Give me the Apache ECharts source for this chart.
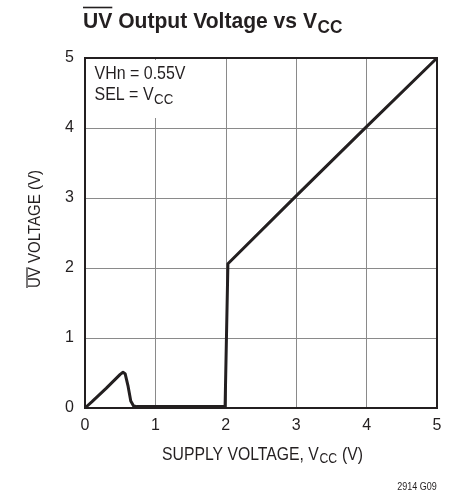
<!DOCTYPE html>
<html>
<head>
<meta charset="utf-8">
<script src="https://cdn.jsdelivr.net/npm/echarts@6/dist/echarts.min.js"></script>
<style>
html, body { margin: 0; padding: 0; background: #fff; }
#chart { width: 455px; height: 493px; }
</style>
</head>
<body>
<div id="chart"></div>
<script>
// supply voltage (V) and UV output voltage (V)
var vccValues = [0, 0.1, 0.3, 0.5, 0.54, 0.57, 0.61, 0.65, 0.69, 0.74, 1.0, 1.5, 1.99, 2.03, 3, 4, 5];
var uvValues = [0, 0.09, 0.28, 0.48, 0.51, 0.49, 0.32, 0.1, 0.03, 0.02, 0.02, 0.02, 0.02, 2.06, 3.03, 4.02, 5];
var xTicks = [0, 1, 2, 3, 4, 5];
var yTicks = [0, 1, 2, 3, 4, 5];

var font = "'Liberation Sans', Arial, sans-serif";
var ink = '#231f20';

var curve = [];
for (var i = 0; i < vccValues.length; i++) {
    curve.push([vccValues[i], uvValues[i]]);
}

// text width helper, used to squeeze text into the condensed look of the original
var ctx = document.createElement('canvas').getContext('2d');
function textWidth(str, size, weight) {
    ctx.font = (weight || 'normal') + ' ' + size + 'px ' + font;
    return ctx.measureText(str).width;
}

// a line of text plus optional subscript, laid out left to right, centred on cy
function textLine(x, cy, main, size, weight, sub, subSize, subDy, sx) {
    var w = textWidth(main, size, weight) * sx;
    var els = [{
        type: 'text', x: x, y: cy, scaleX: sx, z: 3,
        style: { text: main, font: weight + ' ' + size + 'px ' + font, fill: ink, align: 'left', verticalAlign: 'middle' }
    }];
    if (sub) {
        els.push({
            type: 'text', x: x + w + 0.5, y: cy + subDy, scaleX: sx, z: 3,
            style: { text: sub, font: weight + ' ' + subSize + 'px ' + font, fill: ink, align: 'left', verticalAlign: 'middle' }
        });
    }
    return els;
}

var titleScale = 234 / textWidth('UV Output Voltage vs V', 22, 'bold');
var noteScale = 91 / textWidth('VHn = 0.55V', 18, 'normal');
var xNameScale = 200 / (textWidth('SUPPLY VOLTAGE, V (V)', 18, 'normal') + textWidth('CC', 14, 'normal'));
var yNameScale = 118 / textWidth('UV VOLTAGE (V)', 17, 'normal');
var yNameLen = 118;
var uvLen = textWidth('UV', 17, 'normal') * yNameScale;

var graphics = [];
graphics = graphics.concat(textLine(83, 21.5, 'UV Output Voltage vs V', 22, 'bold', 'CC', 18, 6.5, titleScale));
graphics = graphics.concat(textLine(94.5, 74, 'VHn = 0.55V', 18, 'normal', null, 0, 0, noteScale));
graphics = graphics.concat(textLine(94.5, 95.5, 'SEL = V', 18, 'normal', 'CC', 15, 4.5, noteScale));

var xPre = 'SUPPLY VOLTAGE, V';
var xPreW = textWidth(xPre, 18, 'normal') * xNameScale;
var ccW = textWidth('CC', 14, 'normal') * xNameScale;
graphics = graphics.concat(textLine(162, 455.5, xPre, 18, 'normal', 'CC', 14, 4, xNameScale));
graphics.push({
    type: 'text', x: 162 + xPreW + ccW + 1, y: 455.5, scaleX: xNameScale, z: 3,
    style: { text: ' (V)', font: 'normal 18px ' + font, fill: ink, align: 'left', verticalAlign: 'middle' }
});

graphics.push(
    // top and right edges of the frame
    { type: 'rect', shape: { x: 85, y: 58, width: 352, height: 350 }, style: { fill: 'none', stroke: ink, lineWidth: 2 }, z: 1 },
    // white patch behind the annotation
    { type: 'rect', shape: { x: 87, y: 60, width: 101, height: 58 }, style: { fill: '#fff' }, z: 2 },
    {
        type: 'text', x: 35, y: 229, rotation: Math.PI / 2, scaleX: yNameScale, z: 3,
        style: { text: 'UV VOLTAGE (V)', font: 'normal 17px ' + font, fill: ink, align: 'center', verticalAlign: 'middle' }
    },
    // overline on the axis-title UV
    { type: 'line', shape: { x1: 27, y1: 229 + yNameLen / 2, x2: 27, y2: 229 + yNameLen / 2 - uvLen }, style: { stroke: ink, lineWidth: 1.2 } },
    // overline on the chart-title UV
    { type: 'line', shape: { x1: 83, y1: 7.5, x2: 83 + textWidth('UV', 22, 'bold') * titleScale, y2: 7.5 }, style: { stroke: ink, lineWidth: 1.6 } },
    {
        type: 'text', x: 417, y: 487.5, scaleX: 0.9, z: 3,
        style: { text: '2914 G09', font: 'normal 10px ' + font, fill: ink, align: 'center', verticalAlign: 'middle' }
    }
);

var myChart = echarts.init(document.getElementById('chart'));

var option = {
    backgroundColor: '#fff',
    animation: false,
    grid: {
        left: 85,
        right: 18,
        top: 58,
        bottom: 85
    },
    xAxis: {
        type: 'value',
        min: xTicks[0],
        max: xTicks[xTicks.length - 1],
        interval: 1,
        axisLine: { show: true, onZero: false, lineStyle: { color: ink, width: 2 } },
        axisTick: { show: false },
        axisLabel: { color: ink, fontFamily: font, fontSize: 16, margin: 10 },
        splitLine: { show: true, lineStyle: { color: '#8a8a8a', width: 1 } }
    },
    yAxis: {
        type: 'value',
        min: yTicks[0],
        max: yTicks[yTicks.length - 1],
        interval: 1,
        axisLine: { show: true, onZero: false, lineStyle: { color: ink, width: 2 } },
        axisTick: { show: false },
        axisLabel: { color: ink, fontFamily: font, fontSize: 16, margin: 11 },
        splitLine: { show: true, lineStyle: { color: '#8a8a8a', width: 1 } }
    },
    series: [{
        type: 'line',
        data: curve,
        showSymbol: false,
        smooth: false,
        lineStyle: { color: ink, width: 3, join: 'round' },
        z: 5
    }],
    graphic: graphics
};

myChart.setOption(option);
</script>
</body>
</html>
